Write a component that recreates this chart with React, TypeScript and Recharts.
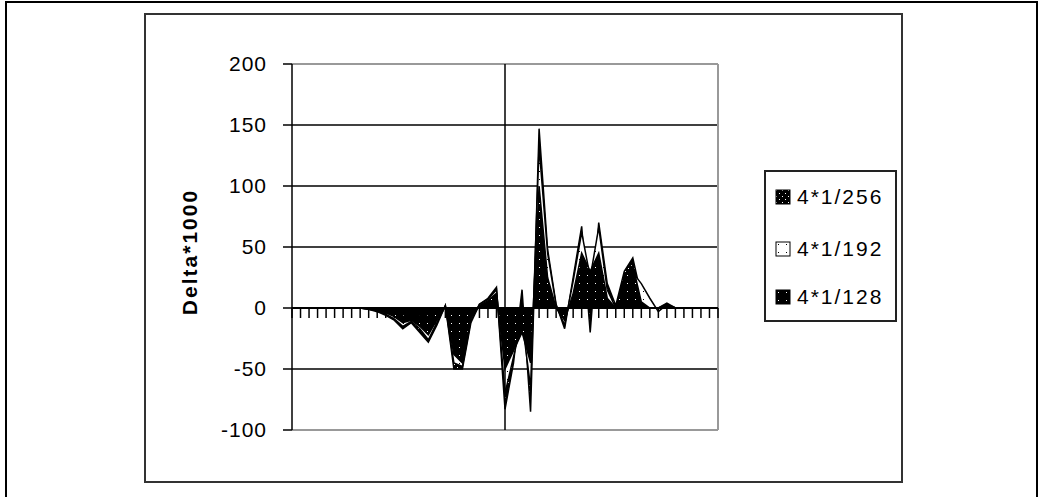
import { AreaChart, Area, XAxis, YAxis, CartesianGrid, ReferenceLine } from 'recharts';

const categories = [
  1, 2, 3, 4, 5, 6, 7, 8, 9, 10, 11, 12, 13, 14, 15, 16, 17, 18, 19, 20, 21, 22, 23, 24, 25, 26,
  27, 28, 29, 30, 31, 32, 33, 34, 35, 36, 37, 38, 39, 40, 41, 42, 43, 44, 45, 46, 47, 48, 49, 50, 51,
];

// Delta*1000 per step
const s256 = [
  0, 0, 0, 0, 0, 0, 0, 0, 0, -1, -3, -6, -10, -17, -12, -20, -28, -14, 2, -50, -50, -12, 3, 8, 17, -83,
  -45, 15, -85, 147, 48, 3, -17, 25, 67, -20, 70, 20, 2, 30, 41, 10, 0, 0, 4, 0, 0, 0, 0, 0, 0,
];
const s192 = [
  0, 0, 0, 0, 0, 0, 0, 0, 0, -1, -2, -5, -9, -15, -11, -17, -26, -12, 2, -45, -48, -10, 3, 7, 15, -70,
  -40, -10, -65, 132, 45, 2, -14, 22, 62, 25, 66, 15, 0, 15, 29, 20, 8, -3, 3, 0, 0, 0, 0, 0, 0,
];
const s128 = [
  0, 0, 0, 0, 0, 0, 0, 0, 0, -1, -2, -4, -7, -12, -10, -15, -22, -10, 1, -38, -45, -8, 2, 6, 12, -50,
  -35, -20, -45, 100, 25, 0, -10, 12, 45, 30, 45, 8, 0, 25, 35, 5, 0, 0, 3, 0, 0, 0, 0, 0, 0,
];

const seriesNames = ['4*1/256', '4*1/192', '4*1/128'];
const yTicks = [-100, -50, 0, 50, 100, 150, 200];
const gridValues = [-50, 50, 100, 150];

const data = categories.map((c, i) => ({ c, a: s256[i], b: s192[i], d: s128[i] }));

const FONT = '"Liberation Sans", Arial, sans-serif';
const PLOT_TOP = 64;
const PLOT_H = 366;
const Y_MIN = -100;
const Y_MAX = 200;
const zeroY = PLOT_TOP + (PLOT_H * Y_MAX) / (Y_MAX - Y_MIN);

function ZeroTick({ x }: any) {
  return <line x1={x} x2={x} y1={zeroY} y2={zeroY + 10} stroke="#000" strokeWidth={1.5} />;
}

function YLabel() {
  return (
    <text
      transform="translate(197, 252) rotate(-90)"
      textAnchor="middle"
      fontFamily={FONT}
      fontWeight="bold"
      fontSize={21}
      letterSpacing={2}
      fill="#000"
    >
      Delta*1000
    </text>
  );
}

const fills = ['url(#pat256)', 'url(#pat192)', 'url(#pat128)'];

function LegendBox() {
  const rows = [25, 77, 125];
  return (
    <div
      style={{
        position: 'absolute',
        left: 764,
        top: 170,
        width: 129,
        height: 148,
        border: '2px solid #222',
        background: '#fff',
      }}
    >
      {seriesNames.map((name, i) => (
        <div key={name} style={{ position: 'absolute', left: 9, top: rows[i] - 12, height: 24, display: 'flex', alignItems: 'center' }}>
          <svg width={16} height={16} style={{ display: 'block' }}>
            <rect x={1} y={1} width={14} height={14} fill={fills[i]} stroke="#000" strokeWidth={1} />
          </svg>
          <span style={{ marginLeft: 6, fontFamily: FONT, fontSize: 21, letterSpacing: 2, color: '#000', lineHeight: '24px' }}>
            {name}
          </span>
        </div>
      ))}
    </div>
  );
}

export default function App() {
  return (
    <div style={{ position: 'absolute', left: 0, top: 0, width: 1040, height: 497, overflow: 'hidden', background: '#fff' }}>
      <div style={{ position: 'absolute', left: 5, top: 1, width: 1029, height: 520, border: '2px solid #000' }} />
      <div style={{ position: 'absolute', left: 144, top: 13, width: 755, height: 466, border: '2px solid #333' }} />
      <div style={{ position: 'absolute', left: 0, top: 0 }}>
        <AreaChart width={1040} height={497} data={data} margin={{ top: PLOT_TOP, right: 322, bottom: 66, left: 232 }}>
          <defs>
            <pattern id="pat256" width={6} height={6} patternUnits="userSpaceOnUse">
              <rect width={6} height={6} fill="#000" />
              <rect x={1} y={1} width={1} height={1} fill="#fff" />
              <rect x={4} y={4} width={1} height={1} fill="#fff" />
            </pattern>
            <pattern id="pat192" width={8} height={8} patternUnits="userSpaceOnUse">
              <rect width={8} height={8} fill="#fff" />
              <rect x={3} y={3} width={1} height={1} fill="#000" />
            </pattern>
            <pattern id="pat128" width={8} height={8} patternUnits="userSpaceOnUse">
              <rect width={8} height={8} fill="#000" />
              <rect x={3} y={3} width={1} height={1} fill="#fff" />
            </pattern>
          </defs>
          <CartesianGrid vertical={false} horizontalValues={gridValues} stroke="#000" strokeWidth={1.5} />
          <XAxis
            dataKey="c"
            height={1}
            interval={0}
            axisLine={false}
            tickLine={false}
            tick={<ZeroTick />}
          />
          <YAxis
            domain={[Y_MIN, Y_MAX]}
            ticks={yTicks}
            interval={0}
            width={60}
            tickSize={9}
            tickMargin={16}
            axisLine={{ stroke: '#000', strokeWidth: 1.5 }}
            tickLine={{ stroke: '#000', strokeWidth: 1.5 }}
            tick={{ fill: '#000', fontSize: 21, fontFamily: FONT, letterSpacing: 1 }}
            label={{ content: <YLabel /> }}
          />
          <Area type="linear" dataKey="a" name={seriesNames[0]} baseValue={0} stroke="#000" strokeWidth={1.5} fill={fills[0]} fillOpacity={1} dot={false} activeDot={false} isAnimationActive={false} />
          <Area type="linear" dataKey="b" name={seriesNames[1]} baseValue={0} stroke="#000" strokeWidth={1.5} fill={fills[1]} fillOpacity={1} dot={false} activeDot={false} isAnimationActive={false} />
          <Area type="linear" dataKey="d" name={seriesNames[2]} baseValue={0} stroke="#000" strokeWidth={1.5} fill={fills[2]} fillOpacity={1} dot={false} activeDot={false} isAnimationActive={false} />
          <ReferenceLine y={Y_MAX} stroke="#999" strokeWidth={2} />
          <ReferenceLine y={Y_MIN} stroke="#999" strokeWidth={2} />
          <ReferenceLine x={categories[categories.length - 1]} stroke="#999" strokeWidth={2} />
          <ReferenceLine y={0} stroke="#000" strokeWidth={2} />
          <ReferenceLine x={categories[25]} stroke="#000" strokeWidth={1.5} />
        </AreaChart>
      </div>
      <LegendBox />
    </div>
  );
}
